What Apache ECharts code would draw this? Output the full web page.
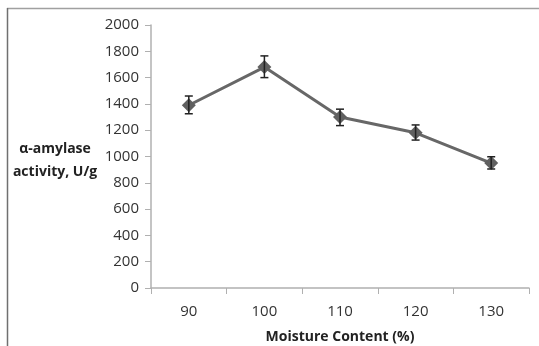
<!DOCTYPE html>
<html><head><meta charset="utf-8">
<script src="https://cdn.jsdelivr.net/npm/echarts@6/dist/echarts.min.js"></script>
<style>html,body{margin:0;padding:0;background:#fff}#c{width:539px;height:346px}</style>
</head><body><div id="c"></div>
<script>
const categories = ['90','100','110','120','130'];
const activity = [1390, 1680, 1300, 1180, 950];
const errLow = [1325, 1600, 1235, 1125, 905];
const errHigh = [1460, 1765, 1360, 1240, 998];

const chart = echarts.init(document.getElementById('c'));
const font = '"Open Sans", sans-serif';
chart.setOption({
  animation: false,
  backgroundColor: '#fff',
  graphic: [
    {type:'line', shape:{x1:7,y1:8.5,x2:539,y2:8.5}, style:{stroke:'#a0a0a0', lineWidth:1.5}},
    {type:'line', shape:{x1:7.5,y1:8,x2:7.5,y2:346}, style:{stroke:'#707070', lineWidth:1.5}},
    {type:'text', x:55, y:149, style:{text:'α-amylase', font:'bold 14px '+font, fill:'#222', align:'center', verticalAlign:'middle'}},
    {type:'text', x:55, y:172, style:{text:'activity, U/g', font:'bold 14px '+font, fill:'#222', align:'center', verticalAlign:'middle'}}
  ],
  grid: {left:151, right:10, top:25, bottom:58, outerBoundsMode:'none', containLabel:false},
  xAxis: {
    type:'category', data:categories, boundaryGap:true,
    axisLine:{lineStyle:{color:'#b0b0b0', width:1.5}},
    axisTick:{show:true, length:6, lineStyle:{color:'#b0b0b0'}},
    axisLabel:{color:'#333', fontSize:15, fontFamily:font, margin:16},
    name:'Moisture Content (%)', nameLocation:'middle', nameGap:42,
    nameTextStyle:{fontWeight:'bold', fontSize:14, fontFamily:font, color:'#222'}
  },
  yAxis: {
    type:'value', min:0, max:2000, interval:200,
    axisLine:{show:true, lineStyle:{color:'#b0b0b0', width:1.5}},
    axisTick:{show:true, length:6, lineStyle:{color:'#b0b0b0'}},
    splitLine:{show:false},
    axisLabel:{color:'#333', fontSize:15, fontFamily:font, margin:12, formatter: v => String(v)}
  },
  series: [
    {
      type:'line', data:activity, symbol:'diamond', symbolSize:14,
      lineStyle:{color:'#676767', width:3}, itemStyle:{color:'#606060'}, z:3
    },
    {
      type:'custom', z:4,
      data: categories.map((c,i)=>[i, errLow[i], errHigh[i]]),
      renderItem: function(params, api){
        const lo = api.coord([api.value(0), api.value(1)]);
        const hi = api.coord([api.value(0), api.value(2)]);
        const w = 4;
        const st = {stroke:'#222', lineWidth:1.5};
        return {type:'group', children:[
          {type:'line', shape:{x1:lo[0],y1:lo[1],x2:hi[0],y2:hi[1]}, style:st},
          {type:'line', shape:{x1:lo[0]-w,y1:lo[1],x2:lo[0]+w,y2:lo[1]}, style:st},
          {type:'line', shape:{x1:hi[0]-w,y1:hi[1],x2:hi[0]+w,y2:hi[1]}, style:st}
        ]};
      }
    }
  ]
});
</script></body></html>
